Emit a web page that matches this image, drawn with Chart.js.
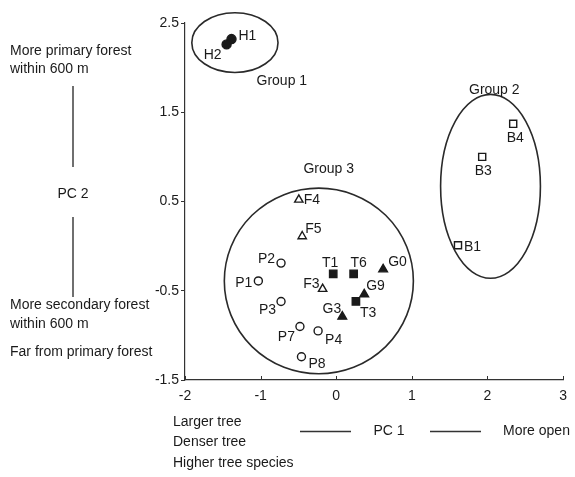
<!DOCTYPE html>
<html>
<head>
<meta charset="utf-8">
<script src="https://cdn.jsdelivr.net/npm/chart.js@4/dist/chart.umd.min.js"></script>
<style>
  html, body { margin: 0; padding: 0; background: #fff; }
  #wrap { width: 575px; height: 477px; }
</style>
</head>
<body>
<div id="wrap"><canvas id="pca" width="575" height="477"></canvas></div>
<script>
// ----------------- Data -----------------
// H = filled circle, B = open square, P = open circle, F = open triangle, T = filled square, G = filled triangle
const hNames = ['H1', 'H2'];
const hX = [-1.385, -1.45];
const hY = [2.32, 2.26];

const bNames = ['B4', 'B3', 'B1'];
const bX = [2.34, 1.93, 1.61];
const bY = [1.37, 1.0, 0.01];

const pNames = ['P2', 'P1', 'P3', 'P7', 'P4', 'P8'];
const pX = [-0.73, -1.03, -0.73, -0.48, -0.24, -0.46];
const pY = [-0.19, -0.39, -0.62, -0.90, -0.95, -1.24];

const fNames = ['F4', 'F5', 'F3'];
const fX = [-0.495, -0.45, -0.18];
const fY = [0.52, 0.11, -0.48];

const tNames = ['T1', 'T6', 'T3'];
const tX = [-0.04, 0.23, 0.26];
const tY = [-0.31, -0.31, -0.62];

const gNames = ['G0', 'G9', 'G3'];
const gX = [0.62, 0.37, 0.08];
const gY = [-0.26, -0.54, -0.79];

// group ellipses (centre and half axes, in PC units)
const groupNames = ['Group 1', 'Group 2', 'Group 3'];
const groupCx = [-1.34, 2.04, -0.23];
const groupCy = [2.28, 0.67, -0.39];
const groupRx = [0.57, 0.66, 1.25];
const groupRy = [0.335, 1.03, 1.04];

const xTicks = [-2, -1, 0, 1, 2, 3];
const yTicks = [-1.5, -0.5, 0.5, 1.5, 2.5];

// ----------------- Label placement -----------------
const groupLabelAt = { 'Group 1': [-0.72, 1.85], 'Group 2': [2.09, 1.75], 'Group 3': [-0.10, 0.86] };
const labelOffset = {
  H1: [7, -3, 'left'], H2: [-5, 11, 'right'],
  B4: [2, 14, 'center'], B3: [1, 14, 'center'], B1: [6, 2, 'left'],
  P2: [-6, -4, 'right'], P1: [-6, 2, 'right'], P3: [-5, 9, 'right'],
  P7: [-5, 11, 'right'], P4: [7, 9, 'left'], P8: [7, 7, 'left'],
  F4: [5, 0, 'left'], F5: [3, -7, 'left'], F3: [-3, -5, 'right'],
  T1: [-3, -11, 'center'], T6: [5, -11, 'center'], T3: [4, 12, 'left'],
  G0: [5, -7, 'left'], G9: [2, -8, 'left'], G3: [-1, -7, 'right']
};

const INK = '#1a1a1a';
const FAMILY = '"Liberation Sans", Arial, sans-serif';
const FONT = '14px ' + FAMILY;

function pts(xs, ys, names) {
  return xs.map((x, i) => ({ x: x, y: ys[i], name: names[i] }));
}

function series(label, xs, ys, names, style, radius, filled) {
  return {
    label: label,
    data: pts(xs, ys, names),
    pointStyle: style,
    pointRadius: radius,
    pointHoverRadius: radius,
    pointBorderWidth: 1.4,
    borderColor: INK,
    pointBorderColor: INK,
    pointBackgroundColor: filled ? INK : '#fff',
    showLine: false
  };
}

// ----------------- Annotations plugin -----------------
const annotate = {
  id: 'annotate',
  afterDatasetsDraw(chart) {
    const ctx = chart.ctx;
    const xs = chart.scales.x, ys = chart.scales.y;
    const area = chart.chartArea;
    ctx.save();

    // inward tick marks on the PC 1 axis
    ctx.strokeStyle = '#333';
    ctx.lineWidth = 1;
    xTicks.forEach(v => {
      const px = Math.round(xs.getPixelForValue(v)) + 0.5;
      ctx.beginPath();
      ctx.moveTo(px, area.bottom);
      ctx.lineTo(px, area.bottom - 4);
      ctx.stroke();
    });

    // group ellipses
    ctx.strokeStyle = '#2a2a2a';
    ctx.lineWidth = 1.6;
    groupNames.forEach((g, i) => {
      const cx = xs.getPixelForValue(groupCx[i]);
      const cy = ys.getPixelForValue(groupCy[i]);
      const rx = Math.abs(xs.getPixelForValue(groupCx[i] + groupRx[i]) - cx);
      const ry = Math.abs(ys.getPixelForValue(groupCy[i] + groupRy[i]) - cy);
      ctx.beginPath();
      ctx.ellipse(cx, cy, rx, ry, 0, 0, Math.PI * 2);
      ctx.stroke();
    });

    ctx.fillStyle = INK;
    ctx.font = FONT;
    ctx.textBaseline = 'middle';

    // group labels
    ctx.textAlign = 'center';
    groupNames.forEach(g => {
      const at = groupLabelAt[g];
      ctx.fillText(g, xs.getPixelForValue(at[0]), ys.getPixelForValue(at[1]));
    });

    // point labels
    chart.data.datasets.forEach((ds, di) => {
      const meta = chart.getDatasetMeta(di);
      ds.data.forEach((d, j) => {
        const el = meta.data[j];
        const off = labelOffset[d.name] || [6, 0, 'left'];
        ctx.textAlign = off[2];
        ctx.fillText(d.name, el.x + off[0], el.y + off[1]);
      });
    });

    // PC 2 description (left)
    ctx.textAlign = 'left';
    ctx.fillText('More primary forest', 10, 51);
    ctx.fillText('within 600 m', 10, 69);
    ctx.fillText('More secondary forest', 10, 305);
    ctx.fillText('within 600 m', 10, 324);
    ctx.fillText('Far from primary forest', 10, 352);
    ctx.textAlign = 'center';
    ctx.fillText('PC 2', 73, 194);

    // PC 1 description (bottom)
    ctx.textAlign = 'left';
    ctx.fillText('Larger tree', 173, 422);
    ctx.fillText('Denser tree', 173, 442);
    ctx.fillText('Higher tree species', 173, 463);
    ctx.fillText('More open', 503, 431);
    ctx.textAlign = 'center';
    ctx.fillText('PC 1', 389, 431);

    ctx.strokeStyle = '#333';
    ctx.lineWidth = 1.4;
    ctx.beginPath();
    ctx.moveTo(73, 86); ctx.lineTo(73, 167);
    ctx.moveTo(73, 217); ctx.lineTo(73, 297);
    ctx.moveTo(300, 431.5); ctx.lineTo(351, 431.5);
    ctx.moveTo(430, 431.5); ctx.lineTo(481, 431.5);
    ctx.stroke();

    ctx.restore();
  }
};

// ----------------- Chart -----------------
document.addEventListener('DOMContentLoaded', () => {
  const ctx = document.getElementById('pca').getContext('2d');
  new Chart(ctx, {
    type: 'scatter',
    data: {
      datasets: [
        series('H', hX, hY, hNames, 'circle', 4.5, true),
        series('B', bX, bY, bNames, 'rect', 5, false),
        series('P', pX, pY, pNames, 'circle', 4, false),
        series('F', fX, fY, fNames, 'triangle', 4.8, false),
        series('T', tX, tY, tNames, 'rect', 5.2, true),
        series('G', gX, gY, gNames, 'triangle', 5, true)
      ]
    },
    options: {
      responsive: false,
      devicePixelRatio: 1,
      animation: false,
      layout: { padding: { left: 0, top: 23, right: 5, bottom: 0 } },
      plugins: {
        legend: { display: false },
        tooltip: { enabled: false },
        title: { display: false }
      },
      scales: {
        x: {
          type: 'linear',
          min: -2, max: 3,
          afterFit: s => { s.height = 97; },
          afterBuildTicks: s => { s.ticks = xTicks.map(v => ({ value: v })); },
          ticks: { color: INK, font: { family: FAMILY, size: 14 }, padding: 8, maxRotation: 0 },
          grid: { display: true, drawOnChartArea: false, drawTicks: false },
          border: { display: true, color: '#333', width: 1.2 }
        },
        y: {
          type: 'linear',
          min: -1.5, max: 2.5,
          afterFit: s => { s.width = 185; },
          afterBuildTicks: s => { s.ticks = yTicks.map(v => ({ value: v })); },
          ticks: { color: INK, font: { family: FAMILY, size: 14 }, padding: 2 },
          grid: { display: true, drawOnChartArea: false, drawTicks: true, tickLength: 4, color: '#333' },
          border: { display: true, color: '#333', width: 1.2 }
        }
      }
    },
    plugins: [annotate]
  });
});
</script>
</body>
</html>
